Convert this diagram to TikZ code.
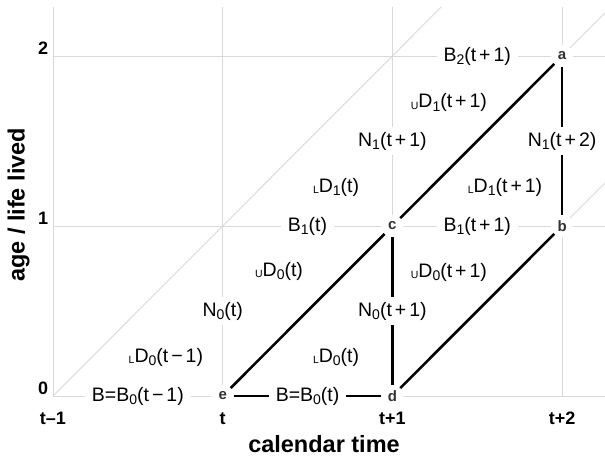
\documentclass[tikz,border=0pt]{standalone}
\usepackage{fontspec}
\setmainfont{Liberation Sans}
\newcommand\rs[1]{\raisebox{-3.5pt}{\fontsize{14}{14}\selectfont #1}}
\newcommand\ls[1]{\raisebox{-1.8pt}{\fontsize{10.5}{10.5}\selectfont #1}}
\newcommand\pl{\hspace{3pt}+\hspace{3pt}}
\newcommand\mi{\hspace{3pt}−\hspace{3pt}}
\tikzset{
  gridline/.style={draw=gray!30, line width=0.9pt},
  blk/.style={draw=black, line width=2.6pt},
  pt/.style={circle, fill=white, inner sep=0pt, minimum size=22pt,
    font=\fontsize{15}{15}\selectfont\bfseries, text=black!80},
  lab/.style={fill=white, inner xsep=7pt, inner ysep=5pt, font=\fontsize{19.5}{22}\selectfont},
  fl/.style={inner sep=0pt, font=\fontsize{19.5}{22}\selectfont},
  tick/.style={inner sep=0pt, font=\fontsize{18}{18}\selectfont\bfseries},
  ttl/.style={inner sep=0pt, font=\fontsize{23.5}{24}\selectfont\bfseries}
}
\begin{document}
\begin{tikzpicture}[x=169.7pt, y=170pt]
\useasboundingbox (-0.3123,-0.3588) rectangle (3.2528,2.3294);
% grid
\foreach \i in {0,1,2,3} {\draw[gridline] (\i,0) -- (\i,2.29);}
\foreach \j in {0,1,2} {\draw[gridline] (0,\j) -- (3.2528,\j);}
\draw[gridline] (0,0) -- (2.29,2.29);
\draw[gridline] (3,2) -- (3.2528,2.2528);
\draw[gridline] (3,1) -- (3.2528,1.2528);
% gray-line labels
\node[lab] (b2) at (2.5,2) {B\rs{2}(t\pl 1)};
\node[lab] (n1a) at (2,1.5) {N\rs{1}(t\pl 1)};
\node[lab] (b1a) at (1.5,1) {B\rs{1}(t)};
\node[lab] (b1b) at (2.5,1) {B\rs{1}(t\pl 1)};
\node[lab] (n0a) at (1,0.5) {N\rs{0}(t)};
\node[lab] (b0a) at (0.5,0) {B=B\rs{0}(t\mi 1)};
% points
\node[pt] (a) at (3,2) {a};
\node[pt] (b) at (3,1) {b};
\node[pt] (c) at (2,1) {c};
\node[pt] (d) at (2,0) {d};
\node[pt] (e) at (1,0) {e};
% black lines
\draw[blk] (e) -- (c);
\draw[blk] (c) -- (a);
\draw[blk] (d) -- (b);
\draw[blk] (c) -- node[lab] (n0b) {N\rs{0}(t\pl 1)} (d);
\draw[blk] (a) -- node[lab] (n1b) {N\rs{1}(t\pl 2)} (b);
\draw[blk] (e) -- node[lab] (b0b) {B=B\rs{0}(t)} (d);
% free labels
\node[fl] (ud1) at (2.333,1.724) {\ls{U}D\rs{1}(t\pl 1)};
\node[fl] (ld1a) at (1.668,1.229) {\ls{L}D\rs{1}(t)};
\node[fl] (ld1b) at (2.664,1.229) {\ls{L}D\rs{1}(t\pl 1)};
\node[fl] (ud0a) at (1.332,0.735) {\ls{U}D\rs{0}(t)};
\node[fl] (ud0b) at (2.333,0.729) {\ls{U}D\rs{0}(t\pl 1)};
\node[fl] (ld0a) at (0.665,0.229) {\ls{L}D\rs{0}(t\mi 1)};
\node[fl] (ld0b) at (1.668,0.229) {\ls{L}D\rs{0}(t)};
% axes
\node[tick] (y0) at (-0.058,0.047) {0};
\node[tick] (y1) at (-0.058,1.047) {1};
\node[tick] (y2) at (-0.058,2.047) {2};
\node[tick] (x0) at (0,-0.131) {t–1};
\node[tick] (x1) at (1,-0.131) {t};
\node[tick] (x2) at (2,-0.131) {t+1};
\node[tick] (x3) at (3,-0.131) {t+2};
\node[ttl] (xt) at (1.597,-0.282) {calendar time};
\node[ttl, rotate=90] (yt) at (-0.203,1.124) {age / life lived};
\end{tikzpicture}
\end{document}
